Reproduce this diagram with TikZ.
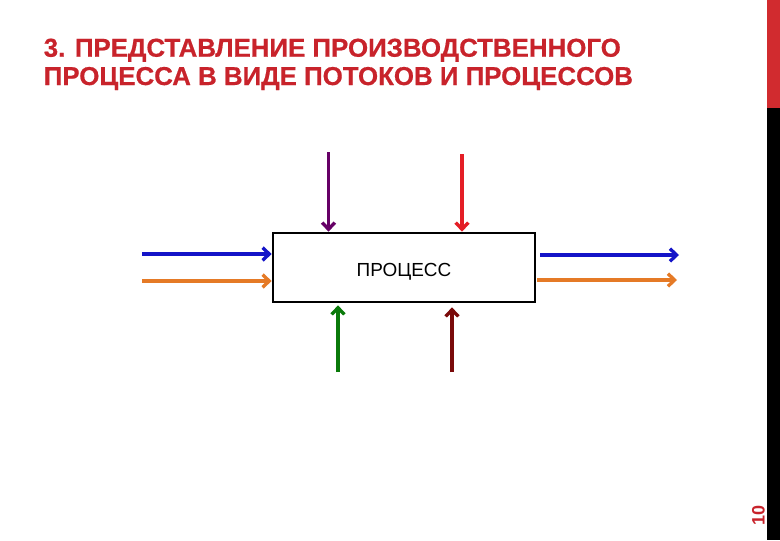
\documentclass[tikz,border=0pt]{standalone}
\usepackage{fontspec}
\setmainfont{Liberation Sans}
\newfontfamily\titlefont{Liberation Sans Bold}[FakeBold=0.6]
\usetikzlibrary{arrows.meta}
\definecolor{titlered}{HTML}{C8232B}
\definecolor{barred}{HTML}{D12B2F}
\definecolor{flowblue}{HTML}{1414C8}
\definecolor{floworange}{HTML}{E57A26}
\definecolor{flowpurple}{HTML}{660066}
\definecolor{flowred}{HTML}{E41E26}
\definecolor{flowgreen}{HTML}{0A7A0A}
\definecolor{flowdarkred}{HTML}{7A0A0A}
\tikzset{
  titletext/.style={anchor=base west, inner sep=0pt, text=titlered, font=\titlefont\fontsize{19.4}{21}\selectfont},
  procbox/.style={draw=black, line width=2pt, fill=white, minimum width=196.5pt, minimum height=51.75pt,
    inner sep=0pt, text depth=0pt, text height=13pt, font=\fontsize{14.2}{16}\selectfont},
  flow/.style={line width=2.5pt, -{Straight Barb[length=5pt,width=9.5pt]}},
  pagenum/.style={inner sep=0pt, rotate=90, text=titlered, font=\bfseries\fontsize{13.5}{15}\selectfont}
}
\begin{document}
\begin{tikzpicture}[x=0.75pt,y=-0.75pt]
\useasboundingbox (0,0) rectangle (780,540);
% side bar
\fill[barred] (767,0) rectangle (780,107.5);
\fill[black] (767,107.5) rectangle (780,540);
% title
\node[titletext] (t1) at (43.5,56.7) {3. ПРЕДСТАВЛЕНИЕ ПРОИЗВОДСТВЕННОГО};
\node[titletext] (t2) at (43.5,85) {ПРОЦЕССА В ВИДЕ ПОТОКОВ И ПРОЦЕССОВ};
% page number
\node[pagenum] (pn) at (758.5,515) {10};
% process box
\node[procbox] (proc) at (404,267.5) {ПРОЦЕСС};
% free ends
\coordinate (inblue) at (142,254);
\coordinate (inorange) at (142,281);
\coordinate (outblue) at (679,255);
\coordinate (outorange) at (677,280);
\coordinate (ctlpurple) at (328.5,152);
\coordinate (ctlred) at (462,154);
\coordinate (mechgreen) at (338,372);
\coordinate (mechdark) at (452,372);
% flows
\draw[flow, flowblue] (inblue) -- (inblue -| proc.west);
\draw[flow, floworange] (inorange) -- (inorange -| proc.west);
\draw[flow, flowblue, shorten <=3pt] (outblue -| proc.east) -- (outblue);
\draw[flow, floworange, shorten <=0.5pt] (outorange -| proc.east) -- (outorange);
\draw[flow, flowpurple] (ctlpurple) -- (ctlpurple |- proc.north);
\draw[flow, flowred] (ctlred) -- (ctlred |- proc.north);
\draw[flow, flowgreen, shorten >=1.5pt] (mechgreen) -- (mechgreen |- proc.south);
\draw[flow, flowdarkred, shorten >=3pt] (mechdark) -- (mechdark |- proc.south);
\end{tikzpicture}
\end{document}
